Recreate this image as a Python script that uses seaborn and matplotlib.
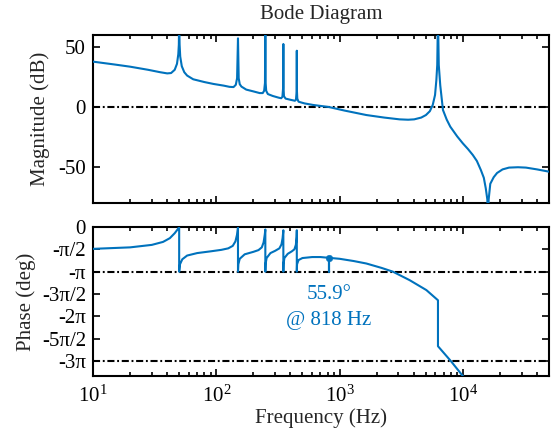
import matplotlib
matplotlib.use("Agg")
import matplotlib.pyplot as plt
import pandas as pd
import seaborn as sns
from matplotlib.ticker import FixedLocator, LogLocator, NullFormatter

# Open-loop magnitude response (Hz, dB)
mag_freq_hz = [10, 15, 20, 28, 35, 40, 43, 46, 48, 49.2, 49.7, 50, 50.4, 51, 52.5, 55, 58,
               65, 80, 95, 115, 128, 138, 144, 147.5, 150, 152, 155, 160, 175, 200, 225,
               238, 244.5, 248.3, 250, 251.5, 254, 262, 287, 320, 336, 344, 348.5, 350, 351.3,
               354, 365, 400, 434, 443, 448.5, 450, 451.3, 454, 465, 520, 610, 818, 1100,
               1650, 2300, 3070, 3600, 4030, 4600, 5020, 5400, 5700, 5950, 6100, 6200, 6285,
               6380, 6560, 6900, 7400, 7910, 9000, 10000, 11000, 12050, 13000, 14000, 14800,
               15350, 15800, 16000, 16200, 16700, 17800, 18950, 21000, 23700, 28000, 32500,
               40000, 50000]
mag_db = [37.8, 35.4, 33.6, 31.0, 29.0, 28.0, 28.3, 31.0, 36.0, 44.0, 52.0, 75.0, 52.0, 42.0,
          34.0, 29.0, 26.2, 23.1, 20.8, 19.2, 17.8, 16.8, 16.6, 18.5, 24.0, 57.2, 24.0, 19.0,
          17.0, 14.5, 13.0, 11.6, 11.6, 13.5, 20.0, 75.0, 20.0, 13.5, 10.8, 9.2, 7.8, 7.3,
          8.5, 16.0, 52.5, 16.0, 9.0, 7.0, 6.0, 5.2, 6.0, 13.0, 46.9, 13.0, 7.0, 4.4, 3.0,
          1.7, 0.0, -3.0, -6.7, -8.8, -10.3, -10.6, -10.3, -8.8, -6.7, -3.5, 1.7, 10.0, 22.5,
          35.0, 75.0, 35.0, 18.0, -2.5, -10.5, -16.4, -24.5, -30.3, -35.0, -40.0, -45.0,
          -52.5, -59.0, -67.8, -77.0, -95.0, -77.0, -64.0, -58.5, -55.0, -52.0, -50.5, -50.2,
          -50.5, -52.0, -53.9]

# Open-loop phase response (Hz, deg)
phase_freq_hz = [10, 20, 30, 37, 42, 46, 48.5, 50, 50, 50.8, 53, 58, 70, 90, 110, 125, 136,
                 143, 147.5, 150, 150, 151, 155, 170, 200, 220, 234, 242, 247.5, 250, 250, 251,
                 256, 275, 300, 325, 338, 345, 349, 350, 350, 351, 357, 380, 410, 430, 442,
                 448.5, 450, 450, 452, 465, 500, 600, 700, 818, 1000, 1300, 1650, 2200, 2711,
                 3700, 5060, 6285, 6285, 8000, 10000, 12000]
phase_deg = [-88, -82, -72, -60, -45, -25, -10, 0, -180, -150, -130, -115, -105, -98, -92,
             -86, -76, -58, -30, -2, -180, -150, -128, -110, -100, -93, -82, -62, -30, -10,
             -180, -150, -125, -105, -96, -86, -70, -45, -20, -13, -180, -150, -125, -108,
             -98, -90, -72, -40, -13, -180, -150, -133, -125, -121, -121, -124.1, -128, -137,
             -147, -165, -180, -214, -254, -295, -480, -540, -600, -640]

# Phase margin annotation
pm_freq_hz = 818
pm_value_deg = 55.9

mag_ticks_db = [50, 0, -50]
phase_ticks_deg = [0, -90, -180, -270, -360, -450, -540]
phase_tick_labels = ["0", "-π/2", "-π", "-3π/2", "-2π", "-5π/2", "-3π"]
mag_ref_db = [0]
phase_ref_deg = [-180, -540]

line_color = "#0072BD"
fs = 15

sns.set_theme(style="ticks")
plt.rcParams["font.family"] = ["Liberation Serif", "DejaVu Serif"]
plt.rcParams["mathtext.fontset"] = "custom"
plt.rcParams["mathtext.rm"] = "Liberation Serif"
plt.rcParams["mathtext.it"] = "Liberation Serif:italic"
plt.rcParams["axes.unicode_minus"] = False
plt.rcParams["axes.linewidth"] = 1.5
plt.rcParams["axes.edgecolor"] = "black"

W, H = 558, 438
fig = plt.figure(figsize=(W / 100, H / 100), dpi=100)

def frame(left, top, right, bottom):
    return [left / W, 1 - bottom / H, (right - left) / W, (bottom - top) / H]

ax_mag = fig.add_axes(frame(93, 35, 549, 203))
ax_ph = fig.add_axes(frame(93, 227, 549, 376))

mag_df = pd.DataFrame({"freq": mag_freq_hz, "mag": mag_db})
ph_df = pd.DataFrame({"freq": phase_freq_hz, "phase": phase_deg})

for ax in (ax_mag, ax_ph):
    ax.set_xscale("log")

dash = (0, (3.4, 1.3, 0.9, 1.3))
for y in mag_ref_db:
    ax_mag.axhline(y, color="black", lw=1.5, ls=dash, zorder=1)
for y in phase_ref_deg:
    ax_ph.axhline(y, color="black", lw=1.5, ls=dash, zorder=1)

sns.lineplot(data=mag_df, x="freq", y="mag", estimator=None, sort=False,
             color=line_color, lw=1.5, ax=ax_mag, zorder=3)
sns.lineplot(data=ph_df, x="freq", y="phase", estimator=None, sort=False,
             color=line_color, lw=1.5, ax=ax_ph, zorder=3)

pm_phase = -180 + pm_value_deg
ax_ph.plot([pm_freq_hz, pm_freq_hz], [-180, pm_phase], color=line_color, lw=1.6, zorder=4)
sns.scatterplot(x=[pm_freq_hz], y=[pm_phase], color=line_color, s=22, edgecolor=line_color,
                ax=ax_ph, zorder=5)
ax_ph.text(pm_freq_hz, -272, f"{pm_value_deg}°", color=line_color, fontsize=fs,
           ha="center", va="center")
ax_ph.text(pm_freq_hz, -375, f"@ {pm_freq_hz} Hz", color=line_color, fontsize=fs,
           ha="center", va="center")

ax_mag.set_xlim(10, 5e4)
ax_mag.set_ylim(-80, 60)
ax_ph.set_xlim(10, 5e4)
ax_ph.set_ylim(-600, 0)

ax_mag.yaxis.set_major_locator(FixedLocator(mag_ticks_db))
ax_ph.yaxis.set_major_locator(FixedLocator(phase_ticks_deg))
ax_ph.set_yticklabels(phase_tick_labels)

for ax in (ax_mag, ax_ph):
    ax.xaxis.set_major_locator(LogLocator(base=10, numticks=10))
    ax.xaxis.set_minor_locator(LogLocator(base=10, subs=range(2, 10), numticks=20))
    ax.xaxis.set_minor_formatter(NullFormatter())
    ax.tick_params(which="both", direction="in", top=True, right=True,
                   labelsize=fs, width=1.2, colors="black")
    ax.tick_params(which="major", length=5)
    ax.tick_params(which="minor", length=3)
    ax.tick_params(axis="y", pad=5)
    ax.tick_params(axis="x", pad=7)
    for s in ax.spines.values():
        s.set_visible(True)
        s.set_linewidth(1.5)
        s.set_color("black")

ax_mag.tick_params(axis="x", labelbottom=False)

ax_mag.set_xlabel("")
ax_mag.set_ylabel("Magnitude (dB)", fontsize=fs, labelpad=6)
ax_ph.set_ylabel("Phase (deg)", fontsize=fs, labelpad=4)
ax_ph.set_xlabel("Frequency (Hz)", fontsize=fs, labelpad=1)

fig.text(321 / W, 1 - 14 / H, "Bode Diagram", fontsize=fs, ha="center", va="center")

fig.savefig("out.png", dpi=100, facecolor="white")
